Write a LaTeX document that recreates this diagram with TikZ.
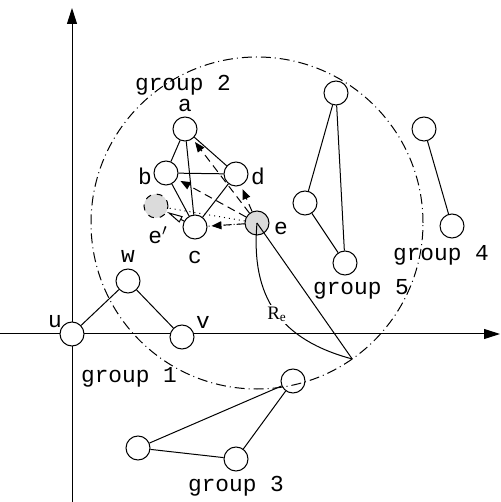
\documentclass[tikz,border=0pt]{standalone}
\usepackage{fontspec}
\setmonofont{Liberation Mono}
\newfontfamily\rfont{Liberation Serif}
\usetikzlibrary{arrows.meta}
\usetikzlibrary{calc}

\begin{document}
\begin{tikzpicture}[x=0.5pt,y=0.5pt,line width=0.5pt,
    every node/.style={font=\fontsize{11.4}{13}\selectfont\ttfamily},
    vtx/.style={circle,draw,fill=white,minimum size=12pt,inner sep=0pt},
    gvtx/.style={vtx,fill=black!14},
    push/.style={dash pattern=on 4pt off 2.5pt,-{Triangle[length=5pt,width=4pt]},shorten >=2pt},
    axis/.style={-{Triangle[length=8pt,width=5pt]}},
    reach/.style={dash pattern=on 5pt off 2pt on 0.5pt off 2pt}]
    \useasboundingbox (-72,-168) rectangle (429,334);
    % axes
    \coordinate (xs) at (-72,0);
    \coordinate (xe) at (428,0);
    \coordinate (ys) at (0,-168);
    \coordinate (ye) at (0,326);
    \draw[axis] (xs) -- (xe);
    \draw[axis] (ys) -- (ye);

    % group 1
    \node[vtx] (u) at (0,0) {};
    \node[vtx] (w) at (56,53) {};
    \node[vtx] (v) at (110,-3) {};
    \draw (u) -- (w) -- (v);
    % group 2
    \node[vtx] (a) at (113,205) {};
    \node[vtx] (b) at (94,161) {};
    \node[vtx] (d) at (164,160) {};
    \node[vtx] (c) at (123,107) {};
    \node[gvtx] (e) at (185,111) {};
    \node[gvtx,dashed] (ep) at (84,128) {};
    \draw (a) -- (b) -- (c) -- (d) -- (a) -- (c);
    \draw (b) -- (d);
    \draw[push] (e) -- (a);
    \draw[push] (e) -- (b);
    \draw[push] (e) -- (d);
    \draw[push] (e) -- (c);
    \draw[dotted] (e) -- (c);
    \draw[dotted] (e) -- (ep);
    \draw[-{Triangle[open,length=8pt,width=3.5pt]}] (c) -- (ep);
    % group 3
    \node[vtx] (p) at (221,-47) {};
    \node[vtx] (q) at (66,-114) {};
    \node[vtx] (r) at (164,-125) {};
    \draw (p) -- (q) -- (r) -- (p);
    % group 4
    \node[vtx] (s) at (352,205) {};
    \node[vtx] (t) at (380,108) {};
    \draw (s) -- (t);
    % group 5
    \node[vtx] (x) at (264,241) {};
    \node[vtx] (y) at (233,131) {};
    \node[vtx] (z) at (273,71) {};
    \draw (x) -- (y) -- (z) -- (x);

    % range of e
    \draw[reach] (e.center) circle[radius=166];
    \coordinate (P) at ($(e.center)+(-55:166)$);
    \draw (e.center) -- (P);
    \draw (e.center) to[out=-95,in=165,looseness=1.15]
        node[fill=white,inner sep=1pt,pos=0.52] (Re) {\rfont\fontsize{9.5}{10}\selectfont R\textsubscript{e}} (P);

    % labels
    \node (lu) at (-17,12) {u};
    \node (lw) at (56,78) {w};
    \node (lv) at (131,12) {v};
    \node (la) at (113,229) {a};
    \node (lb) at (73,158) {b};
    \node (ld) at (186,158) {d};
    \node (lc) at (123,77) {c};
    \node (le) at (209,106) {e};
    \node (lep) at (86,99) {e$'$};
    \node (g1) at (57,-43) {group 1};
    \node (g2) at (111,249) {group 2};
    \node (g3) at (164,-152) {group 3};
    \node (g4) at (369,79) {group 4};
    \node (g5) at (289,45) {group 5};
\end{tikzpicture}
\end{document}
